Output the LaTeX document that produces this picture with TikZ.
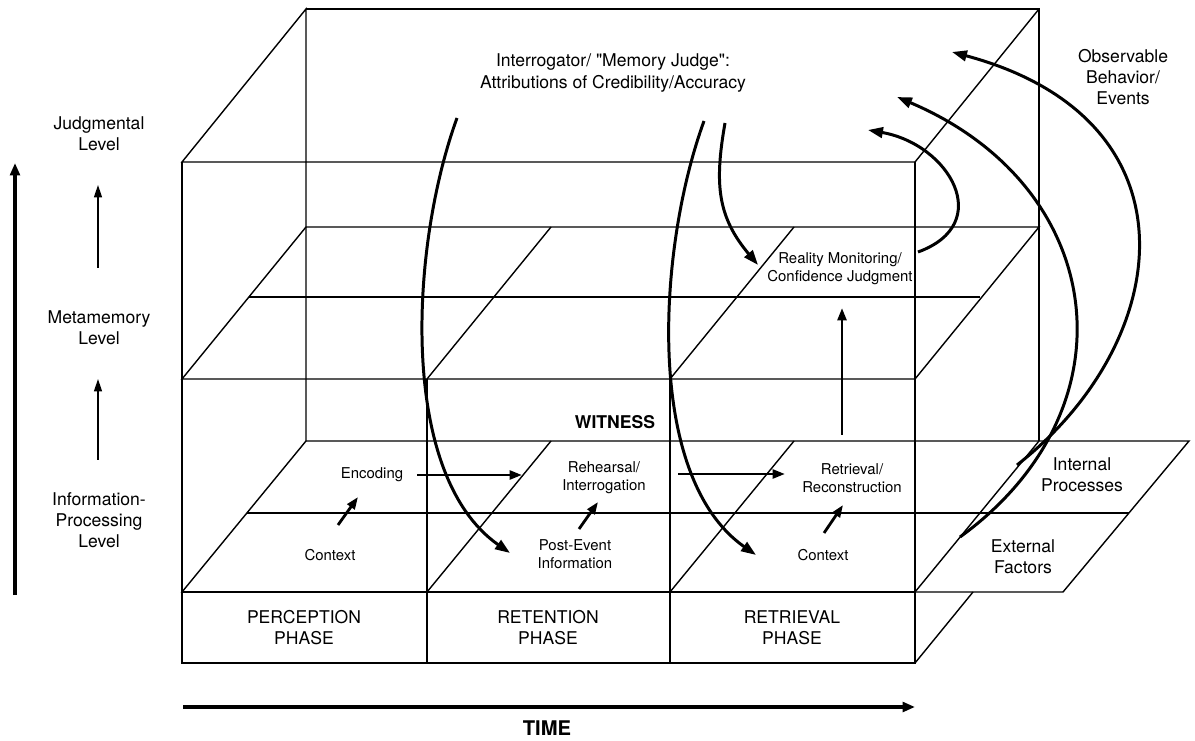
\documentclass[tikz,border=0pt]{standalone}
\usepackage{fontspec}
\setmainfont{TeX Gyre Heros}
\usetikzlibrary{arrows.meta}

\begin{document}
\begin{tikzpicture}[x=0.02cm, y=0.02cm,
  box/.style={line width=0.8pt},
  lbl/.style={align=center, font=\fontsize{10}{12}\selectfont},
  sml/.style={align=center, font=\fontsize{8.5}{10.2}\selectfont},
  bld/.style={font=\fontsize{10}{12}\selectfont\bfseries},
  thk/.style={line width=1.9pt, -{Triangle[length=7pt,width=5.5pt]}},
  crv/.style={line width=1.7pt, -{Triangle[length=8.5pt,width=6pt]}},
  sarr/.style={line width=1.6pt, -{Triangle[length=7pt,width=5pt]}},
  larr/.style={line width=0.8pt, -{Triangle[length=7pt,width=4.5pt]}}]
\useasboundingbox (0,0) rectangle (1195,740);

% Cube frame %
\draw[box] (306,731) -- (1039,731) -- (1039,299);
\draw[box] (306,299) -- (306,731) -- (182,578) -- (915,578) -- (1039,731);
\draw[box] (182,578) -- (182,77);
\draw[box] (915,578) -- (915,77);

% Metamemory level %
\draw[box] (182,361) -- (915,361) -- (1039,513) -- (306,513) -- cycle;
\draw[box] (427,361) -- (551,513);
\draw[box] (670,361) -- (794,513);
\draw[box] (249,443) -- (980,443);

% Information-processing level %
\draw[box] (182,148) -- (1063,148) -- (1189,299) -- (306,299) -- cycle;
\draw[box] (427,148) -- (551,299);
\draw[box] (670,148) -- (794,299);
\draw[box] (915,148) -- (1039,299);
\draw[box] (247,227) -- (1129,227);

% Phase bar %
\draw[box] (182,77) rectangle (915,148);
\draw[box] (427,361) -- (427,77);
\draw[box] (670,361) -- (670,77);
\draw[box] (915,77) -- (973,148);
\draw[line width=1.3pt] (182,148) -- (915,148);

% Levels %
\node[lbl] (lvJ) at (99,606) {Judgmental\\Level};
\node[lbl] (lvM) at (99,412) {Metamemory\\Level};
\node[lbl] (lvI) at (99,220) {Information-\\Processing\\Level};
\coordinate (up0) at (15,145);
\coordinate (up1) at (15,577);

\draw[thk] (up0) -- (up1);
\draw[larr] ([shift={(-1,60)}]lvM.center) -- ([shift={(-1,-51)}]lvJ.center);
\draw[larr] ([shift={(-1,60)}]lvI.center) -- ([shift={(-1,-51)}]lvM.center);

% Phases and time %
\node[lbl] (perc) at (304,112) {PERCEPTION\\PHASE};
\node[lbl] (rete) at (548,112) {RETENTION\\PHASE};
\node[lbl] (retr) at (792,112) {RETRIEVAL\\PHASE};
\coordinate (t0) at (183,33);
\coordinate (t1) at (915,33);
\node[font=\fontsize{11.5}{13}\selectfont\bfseries] (time) at (547,12) {TIME};

\draw[thk] (t0) -- (t1);

% Witness %
\node[bld] (wit) at (615,318) {WITNESS};
\node[sml] (enc) at (372,265) {Encoding};
\node[sml] (ctx1) at (330,185) {Context};
\node[sml] (reh) at (604,262) {Rehearsal/\\Interrogation};
\node[sml] (pei) at (575,186) {Post-Event\\Information};
\node[sml] (ret) at (852,262) {Retrieval/\\Reconstruction};
\node[sml] (ctx2) at (823,185) {Context};
\node[sml] (rmc) at (840,471) {Reality Monitoring/\\Confidence Judgment};
\node[lbl] (ipr) at (1082,265) {Internal\\Processes};
\node[lbl] (ext) at (1023,183) {External\\Factors};

\draw[sarr] ([shift={(45,0)}]enc.center) -- ([shift={(-82,3)}]reh.center);
\draw[sarr] ([shift={(74,4)}]reh.center) -- ([shift={(-67,4)}]ret.center);
\draw[sarr] ([shift={(8,30)}]ctx1.center) -- ([shift={(-14,-22)}]enc.center);
\draw[sarr] ([shift={(4,25)}]pei.center) -- ([shift={(-6,-24)}]reh.center);
\draw[sarr] ([shift={(1,22)}]ctx2.center) -- ([shift={(-9,-27)}]ret.center);
\draw[sarr] ([shift={(-10,43)}]ret.center) -- ([shift={(2,-39)}]rmc.center);

% Judge and observable behavior %
\node[lbl] (judge) at (613,667) {Interrogator/ \textquotedbl Memory Judge\textquotedbl:\\Attributions of Credibility/Accuracy};
\node[lbl] (obs) at (1123,663) {Observable\\Behavior/\\Events};

\draw[crv] ([shift={(-156,-45)}]judge.center) to [out=250, in=145, looseness=0.8] ([shift={(-65,1)}]pei.center);
\draw[crv] ([shift={(91,-48)}]judge.center) to [out=250, in=145, looseness=0.8] ([shift={(-67,0)}]ctx2.center);
\draw[crv] ([shift={(112,-50)}]judge.center) to [out=260, in=130, looseness=1.1] ([shift={(-82,4)}]rmc.center);
\draw[crv] ([shift={(78,17)}]rmc.center) to [out=20, in=-10, looseness=1.6] ([shift={(255,-57)}]judge.center);
\draw[crv] ([shift={(-63,20)}]ext.center) to [out=36, in=-23, out looseness=1.26, in looseness=1.32] ([shift={(284,-24)}]judge.center);
\draw[crv] ([shift={(-65,10)}]ipr.center) to [out=38, in=-15, out looseness=1.22, in looseness=1.59] ([shift={(339,21)}]judge.center);

\end{tikzpicture}
\end{document}
